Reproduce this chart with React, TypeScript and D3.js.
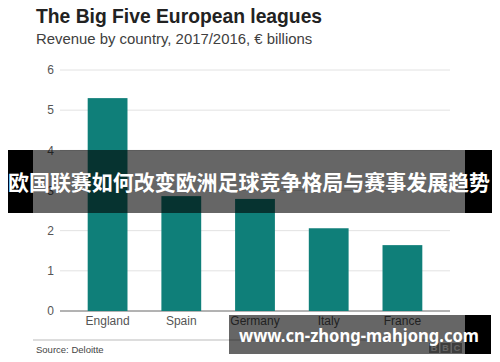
import React from 'react';
import * as d3 from 'd3';

const countries = ['England', 'Spain', 'Germany', 'Italy', 'France'];
const revenue = [5.3, 2.86, 2.79, 2.06, 1.64];
const yTicks = [0, 1, 2, 3, 4, 5, 6];

const title = 'The Big Five European leagues';
const subtitle = 'Revenue by country, 2017/2016, € billions';
const source = 'Source: Deloitte';
const banner = '欧国联赛如何改变欧洲足球竞争格局与赛事发展趋势';
const watermark = 'www.cn-zhong-mahjong.com';

const W = 500;
const H = 362;
const sans = 'Liberation Sans, Arial, Helvetica, sans-serif';

const App = () => {
  // scales
  const x = d3.scaleBand<string>()
    .domain(countries)
    .range([70, 440])
    .paddingInner(0.46)
    .paddingOuter(0.24);

  const y = d3.scaleLinear()
    .domain([0, 6])
    .range([311, 70]);

  return (
    <svg width={W} height={H} style={{ position: 'absolute', left: 0, top: 0, background: '#fff' }}>
      <rect width={W} height={H} fill="#fff" />

      <text x={36} y={22.5} fontFamily={sans} fontWeight="bold" fontSize={19.3} fill="#222">{title}</text>
      <text x={36} y={44} fontFamily={sans} fontSize={14.9} fill="#404040">{subtitle}</text>

      {/* grid + y labels */}
      {yTicks.map(t => (
        <g key={t}>
          <line x1={60} x2={450} y1={y(t)} y2={y(t)}
            stroke={t === 0 ? '#666' : '#e2e2e2'} strokeWidth={1} />
          <text x={54} y={y(t)} dy="0.35em" textAnchor="end" fontFamily={sans}
            fontSize={12} fill="#555">{t}</text>
        </g>
      ))}

      {/* bars */}
      {countries.map((c, i) => (
        <rect key={c} x={x(c)} width={x.bandwidth()} y={y(revenue[i])}
          height={y(0) - y(revenue[i])} fill="#0f7f79" />
      ))}

      {countries.map(c => (
        <text key={c} x={(x(c) ?? 0) + x.bandwidth() / 2} y={325} textAnchor="middle"
          fontFamily={sans} fontSize={12} fill="#555">{c}</text>
      ))}

      <line x1={33} x2={470} y1={340} y2={340} stroke="#bbb" />
      <text x={36} y={352.5} fontFamily={sans} fontSize={9.5} fill="#444">{source}</text>

      {/* BBC block */}
      {['B', 'B', 'C'].map((l, i) => (
        <g key={i} transform={`translate(${429 + i * 11.5},343)`}>
          <rect width={10} height={10} fill="#999" />
          <text x={5} y={8.3} textAnchor="middle" fontFamily={sans} fontWeight="bold"
            fontSize={9} fill="#fff">{l}</text>
        </g>
      ))}

      {/* overlay banner */}
      <rect x={8} y={150} width={25} height={63} fill="#000" />
      <rect x={465} y={150} width={27} height={63} fill="#000" />
      <rect x={33} y={150} width={432} height={63} fill="#000" fillOpacity={0.6} />
      <text x={249} y={190} textAnchor="middle" fontFamily="Noto Sans CJK SC, sans-serif"
        fontWeight="bold" fontSize={21} fill="#fff" textLength={482}
        lengthAdjust="spacingAndGlyphs">{banner}</text>

      {/* watermark */}
      <rect x={229} y={315} width={236} height={39} fill="#000" fillOpacity={0.6} />
      <rect x={465} y={315} width={26} height={39} fill="#000" />
      <text x={239} y={342} fontFamily="Noto Sans, DejaVu Sans, sans-serif" fontWeight="bold"
        fontSize={18} fill="#fff" textLength={240} lengthAdjust="spacingAndGlyphs">{watermark}</text>
    </svg>
  );
};

export default App;
